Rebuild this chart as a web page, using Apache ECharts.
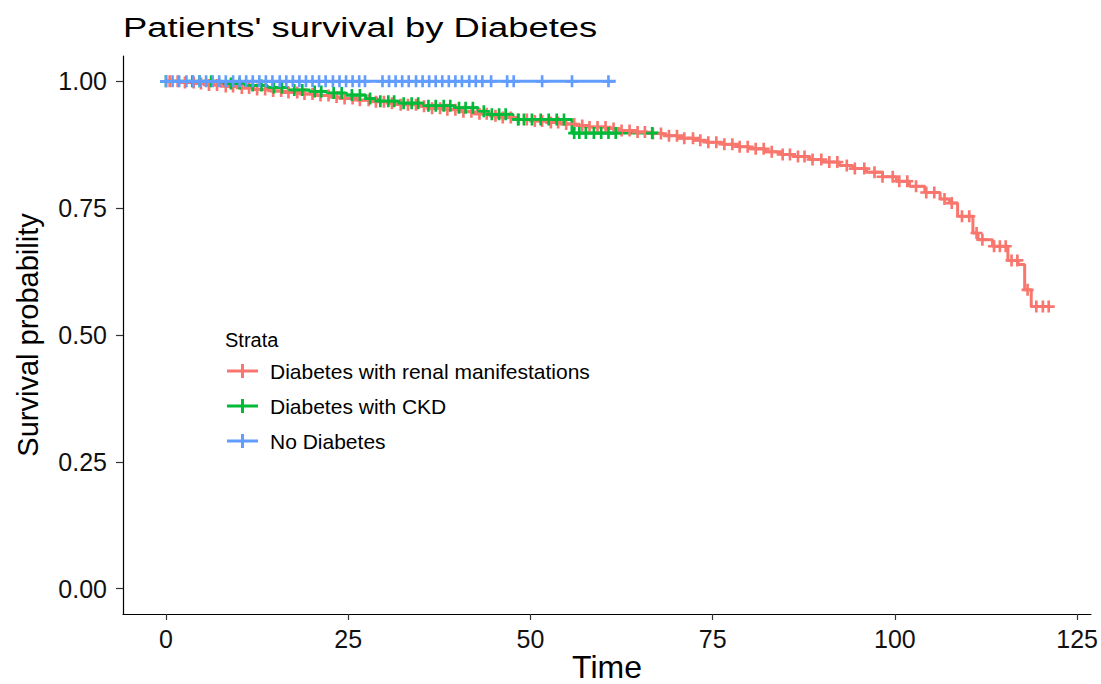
<!DOCTYPE html>
<html>
<head>
<meta charset="utf-8">
<script src="https://cdn.jsdelivr.net/npm/echarts@6/dist/echarts.min.js"></script>
<style>
  html, body { margin: 0; padding: 0; background: #ffffff; }
  #chart { width: 1101px; height: 684px; }
</style>
</head>
<body>
<div id="chart"></div>
<script>
// Kaplan-Meier estimates per stratum: event times and survival after each step
const strataNames = ['Diabetes with renal manifestations', 'Diabetes with CKD', 'No Diabetes'];
const strataColors = ['#F8766D', '#00BA38', '#619CFF'];

const renalTime = [0, 1.8, 3.9, 5.7, 8.1, 10.2, 12.0, 14.3, 16.1, 18.4, 20.2, 22.5, 24.1, 26.3, 28.2,
  30.4, 32.1, 34.5, 36.2, 38.3, 40.6, 42.2, 44.4, 46.1, 48.3, 50.5, 52.2, 54.1, 56.3, 58.0,
  60.4, 62.2, 64.5, 66.1, 68.3, 70.2, 72.4, 74.1, 76.3, 78.5, 80.1, 82.2, 84.4, 86.0, 88.3,
  90.1, 92.4, 94.2, 96.1, 98.3, 100.2, 102.0, 104.1, 106.2, 107.5, 108.6, 110.7, 111.4, 113.4,
  115.5, 116.9, 117.8, 118.7, 121.1];
const renalSurv = [1.000, 0.998, 0.996, 0.993, 0.990, 0.987, 0.984, 0.981, 0.978, 0.975, 0.972, 0.969, 0.966, 0.963, 0.960,
  0.957, 0.954, 0.951, 0.947, 0.944, 0.940, 0.936, 0.932, 0.929, 0.925, 0.922, 0.919, 0.916, 0.913, 0.910,
  0.907, 0.903, 0.900, 0.897, 0.893, 0.888, 0.884, 0.880, 0.876, 0.871, 0.867, 0.861, 0.856, 0.852, 0.846,
  0.841, 0.834, 0.828, 0.821, 0.812, 0.803, 0.793, 0.781, 0.768, 0.760, 0.734, 0.701, 0.688, 0.675,
  0.647, 0.639, 0.589, 0.556, 0.556];
const renalCensor = [0.5, 1.6, 2.6, 3.8, 4.8, 5.9, 7.0, 8.2, 9.2, 10.4, 11.4, 12.5, 13.6, 14.7, 15.8, 16.8,
  18.0, 19.0, 20.1, 21.2, 22.3, 23.4, 24.5, 25.6, 26.6, 27.8, 28.8, 29.9, 31.0, 32.2, 33.2, 34.3,
  35.4, 36.5, 37.6, 38.6, 39.7, 40.8, 41.9, 43.0, 44.0, 45.2, 46.2, 47.3, 48.4, 49.5, 50.6, 51.6,
  52.8, 53.8, 54.9, 56.0, 57.1, 58.1, 59.2, 60.3, 61.4, 62.5, 63.6, 64.7, 65.7, 66.8, 67.9, 69.0,
  70.1, 71.1, 72.3, 73.3, 74.4, 75.5, 76.6, 77.7, 78.7, 79.8, 80.9, 82.0, 83.1, 84.6, 85.6, 86.7,
  87.6, 88.7, 89.9, 91.0, 92.1, 93.4, 94.5, 95.8, 97.2, 98.3, 99.7, 100.6, 101.7, 102.9, 104.3,
  105.4, 106.8, 107.8, 109.2, 110.2, 111.2, 112.0, 113.6, 114.4, 115.2, 116.0, 116.8, 118.2,
  119.4, 120.3, 121.1];

const ckdTime = [0, 7.6, 10.8, 13.9, 16.8, 19.7, 22.1, 24.6, 27.4, 29.0, 31.8, 35.2, 39.6, 42.8, 44.2, 47.6, 55.7, 67.6];
const ckdSurv = [1.000, 0.996, 0.992, 0.988, 0.983, 0.980, 0.977, 0.973, 0.966, 0.961, 0.957, 0.952, 0.948, 0.941, 0.935, 0.925, 0.898, 0.898];
const ckdCensor = [0, 3.6, 4.6, 6.2, 8.9, 10.1, 11.9, 13.1, 14.8, 15.9, 17.6, 18.7, 20.4, 21.3, 23.0, 24.1,
  25.5, 26.6, 28.0, 29.4, 30.5, 31.3, 32.6, 33.7, 34.6, 36.0, 37.0, 38.1, 39.0, 40.2, 41.1, 42.1,
  43.6, 44.7, 45.7, 46.6, 48.3, 49.1, 50.2, 51.4, 52.5, 53.6, 54.6, 56.0, 56.7, 57.6, 58.7, 59.7,
  60.7, 61.7, 66.7];

const noDiabTime = [0, 61.7];
const noDiabSurv = [1.000, 1.000];
const noDiabCensor = [0, 0.9, 1.8, 2.8, 3.7, 4.6, 5.5, 6.4, 7.3, 8.2, 9.2, 10.1, 11.0, 11.9, 12.8, 13.7,
  14.6, 15.6, 16.5, 17.4, 18.3, 19.2, 20.1, 21.0, 21.9, 22.9, 23.8, 24.7, 25.6, 26.5, 27.3, 29.7,
  30.6, 31.5, 32.4, 33.3, 34.3, 35.2, 36.1, 37.0, 37.9, 38.8, 39.7, 40.6, 41.6, 42.5, 43.4, 44.6,
  46.8, 47.7, 51.6, 55.7, 60.7];

// Axis ticks
const timeTicks = [0, 25, 50, 75, 100, 125];
const probTicks = [0, 0.25, 0.5, 0.75, 1];

const FONT = '"Liberation Sans", Arial, Helvetica, sans-serif';
const PLUS = 'path://M3.9,0H6.1V3.9H10V6.1H6.1V10H3.9V6.1H0V3.9H3.9Z';
const LEGEND_KEY = 'path://M0,5.4H31V8.6H0Z M14,0H17V14H14Z';

// survival value of a step curve at time t
function survAt(times, surv, t) {
  let v = surv[0];
  for (let i = 0; i < times.length; i++) {
    if (times[i] <= t) v = surv[i]; else break;
  }
  return v;
}

const curves = [
  { time: renalTime, surv: renalSurv, censor: renalCensor },
  { time: ckdTime, surv: ckdSurv, censor: ckdCensor },
  { time: noDiabTime, surv: noDiabSurv, censor: noDiabCensor }
];

const stepSeries = curves.map((c, k) => ({
  type: 'line',
  name: strataNames[k],
  step: 'end',
  symbol: 'none',
  showSymbol: false,
  data: c.time.map((t, i) => [t, c.surv[i]]),
  lineStyle: { width: 3, color: strataColors[k] },
  itemStyle: { color: strataColors[k] },
  z: 2,
  silent: true
}));

const censorSeries = curves.map((c, k) => ({
  type: 'scatter',
  name: strataNames[k],
  symbol: PLUS,
  symbolSize: 12,
  data: c.censor.map(t => [t, survAt(c.time, c.surv, t)]),
  itemStyle: { color: strataColors[k], opacity: 1 },
  z: 3,
  silent: true
}));

const chart = echarts.init(document.getElementById('chart'), null, { renderer: 'svg' });
chart.setOption({
  animation: false,
  backgroundColor: '#ffffff',
  title: [{
    text: 'Strata',
    left: 220,
    top: 325,
    textStyle: { fontFamily: FONT, fontSize: 20, fontWeight: 'normal', color: '#000' }
  }],
  graphic: [{
    type: 'text',
    x: 123,
    y: 28,
    scaleX: 1.3,
    style: {
      text: "Patients' survival by Diabetes",
      font: '28px ' + FONT,
      fill: '#000',
      textAlign: 'left',
      textVerticalAlign: 'middle',
      verticalAlign: 'middle'
    }
  }],
  legend: {
    data: strataNames,
    orient: 'vertical',
    left: 222,
    top: 355,
    icon: LEGEND_KEY,
    itemWidth: 31,
    itemHeight: 14,
    itemGap: 13,
    textStyle: { fontFamily: FONT, fontSize: 21, color: '#000', lineHeight: 22, padding: [0, 0, 0, 7] },
    selectedMode: false
  },
  grid: { left: 123, top: 56, right: 10, bottom: 70, containLabel: false, outerBoundsMode: 'none' },
  xAxis: {
    type: 'value',
    min: -5.9,
    max: 126.9,
    name: 'Time',
    nameLocation: 'middle',
    nameMoveOverlap: false,
    nameGap: 38,
    nameTextStyle: { fontFamily: FONT, fontSize: 32, lineHeight: 30, color: '#000' },
    axisLine: { show: true, onZero: false, lineStyle: { color: '#000', width: 1.2 } },
    axisTick: { show: true, customValues: timeTicks, length: 6, lineStyle: { color: '#333', width: 1.2 } },
    axisLabel: { customValues: timeTicks, fontFamily: FONT, fontSize: 25, color: '#111', margin: 12 },
    splitLine: { show: false }
  },
  yAxis: {
    type: 'value',
    min: -0.05,
    max: 1.05,
    name: 'Survival probability',
    nameLocation: 'middle',
    nameGap: 81,
    nameTextStyle: { fontFamily: FONT, fontSize: 29, color: '#000' },
    axisLine: { show: true, onZero: false, lineStyle: { color: '#000', width: 1.2 } },
    axisTick: { show: true, customValues: probTicks, length: 7, lineStyle: { color: '#333', width: 1.2 } },
    axisLabel: {
      customValues: probTicks,
      fontFamily: FONT, fontSize: 25, color: '#111', margin: 16,
      formatter: v => v.toFixed(2)
    },
    splitLine: { show: false }
  },
  series: stepSeries.concat(censorSeries)
});
</script>
</body>
</html>
